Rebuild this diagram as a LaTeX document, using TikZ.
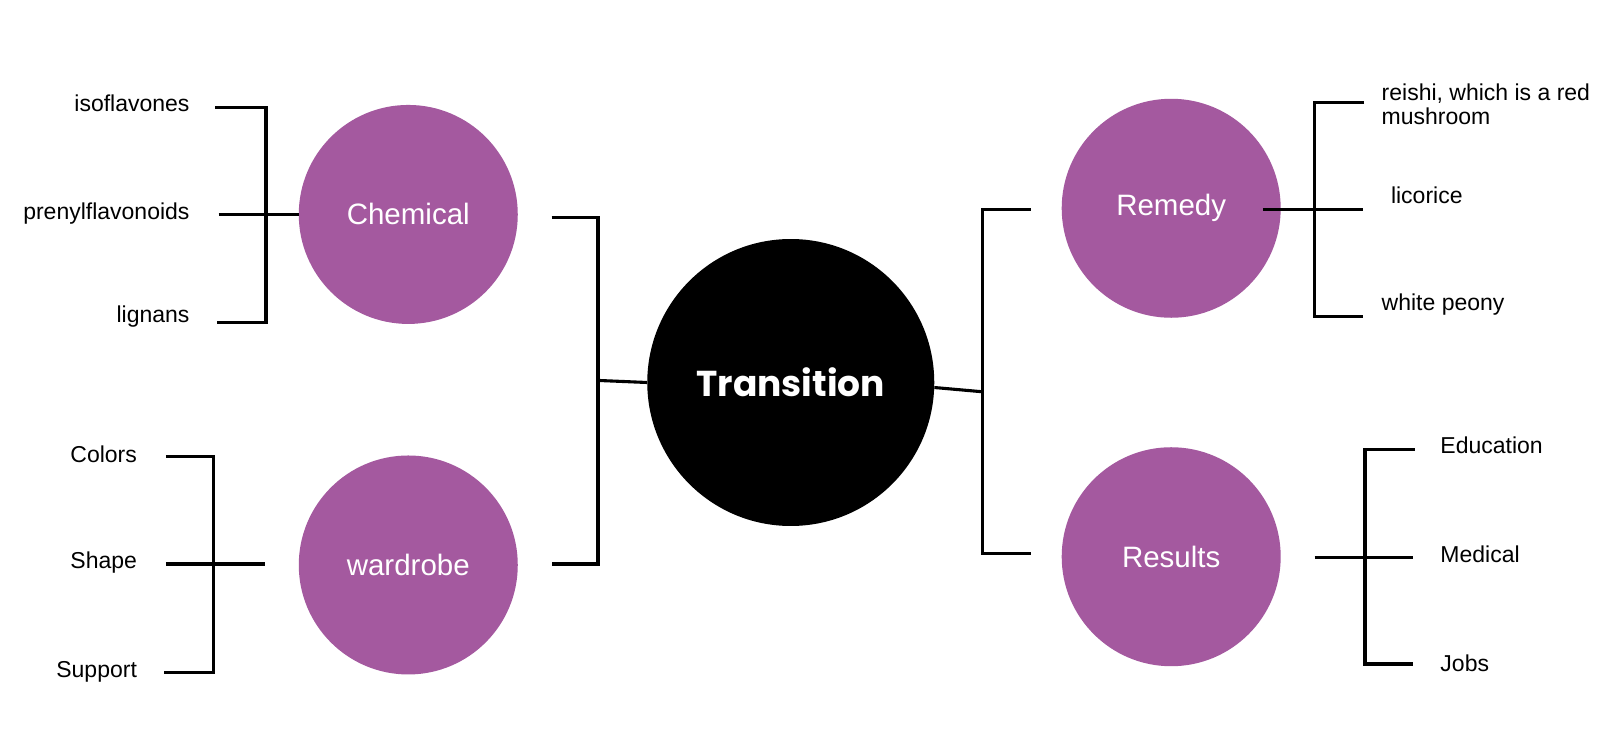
\documentclass[tikz,border=0pt]{standalone}
\usepackage{fontspec}
\setmainfont{Liberation Sans}
\newfontfamily\hubfont{Poppins}
\usetikzlibrary{positioning}
\definecolor{plum}{RGB}{164,89,159}

\tikzset{
  hub/.style={circle,fill=black,minimum size=287pt,inner sep=0pt,text=white,
    font=\hubfont\bfseries\fontsize{36}{40}\selectfont},
  topic/.style={circle,fill=plum,minimum size=219pt,inner sep=0pt,text=white,
    font=\fontsize{29.5}{34}\selectfont},
  leaf/.style={inner sep=0pt,font=\fontsize{23}{24}\selectfont},
  link/.style={line width=3.1pt,line join=miter}
}

\begin{document}
\begin{tikzpicture}[x=1.031pt,y=-1.031pt]
  \useasboundingbox[fill=white] (0,0) rectangle (1565.5,725.5);

  \node[hub] (trans) at (767,371) {Transition};
  \node[topic] (chem) at (396,208) {Chemical};
  \node[topic] (ward) at (396,548) {wardrobe};
  \node[topic] (rem) at (1136,202) {Remedy};
  \node[topic] (res) at (1136,540) {Results};

  % left leaves
  \node[leaf,anchor=east] (iso) at (184,100) {isoflavones};
  \node[leaf,anchor=east] (pren) at (184,207) {prenylflavonoids};
  \node[leaf,anchor=east] (lig) at (184,307) {lignans};
  \node[leaf,anchor=east] (col) at (133,441) {Colors};
  \node[leaf,anchor=east] (shp) at (133,546) {Shape};
  \node[leaf,anchor=east] (sup) at (133,652) {Support};

  % right leaves
  \node[leaf,anchor=west,align=left] (rei) at (1340,101) {reishi, which is a red\\mushroom};
  \node[leaf,anchor=west] (lic) at (1349,189) {licorice};
  \node[leaf,anchor=west] (peo) at (1340,295) {white peony};
  \node[leaf,anchor=west] (edu) at (1397,432) {Education};
  \node[leaf,anchor=west] (med) at (1397,538) {Medical};
  \node[leaf,anchor=west] (job) at (1397,643) {Jobs};

  % bracket ends
  \coordinate (chemA) at (209,104);
  \coordinate (chemB) at (258,313);
  \coordinate (chemC) at (210,313);
  \coordinate (chemM) at (212,208);
  \coordinate (wardA) at (161,443);
  \coordinate (wardB) at (207,652);
  \coordinate (wardC) at (159,652);
  \coordinate (wardM) at (161,547);
  \coordinate (wardN) at (257,547);
  \coordinate (hubA) at (535,211);
  \coordinate (hubB) at (580,547);
  \coordinate (hubC) at (535,547);
  \coordinate (hubL) at (580,369);
  \coordinate (hubR) at (953,380);
  \coordinate (hubD) at (1000,203);
  \coordinate (hubE) at (953,537);
  \coordinate (hubF) at (1000,537);
  \coordinate (remA) at (1323,99);
  \coordinate (remB) at (1275,307);
  \coordinate (remC) at (1322,307);
  \coordinate (remM) at (1225,203);
  \coordinate (remN) at (1322,203);
  \coordinate (resA) at (1372,436);
  \coordinate (resB) at (1324,644);
  \coordinate (resC) at (1371,644);
  \coordinate (resM) at (1275,541);
  \coordinate (resN) at (1371,541);

  \draw[link] (chemA) -| (chemB) -- (chemC);
  \draw[link] (chemM) -- (chem.west);
  \draw[link] (wardA) -| (wardB) -- (wardC);
  \draw[link] (wardM) -- (wardN);
  \draw[link] (hubA) -| (hubB) -- (hubC);
  \draw[link] (hubL) -- (trans.west);
  \draw[link] (trans.-2.5) -- (hubR);
  \draw[link] (hubD) -| (hubE) -- (hubF);
  \draw[link] (remA) -| (remB) -- (remC);
  \draw[link] (remM) -- (remN);
  \draw[link] (resA) -| (resB) -- (resC);
  \draw[link] (resM) -- (resN);
\end{tikzpicture}
\end{document}
